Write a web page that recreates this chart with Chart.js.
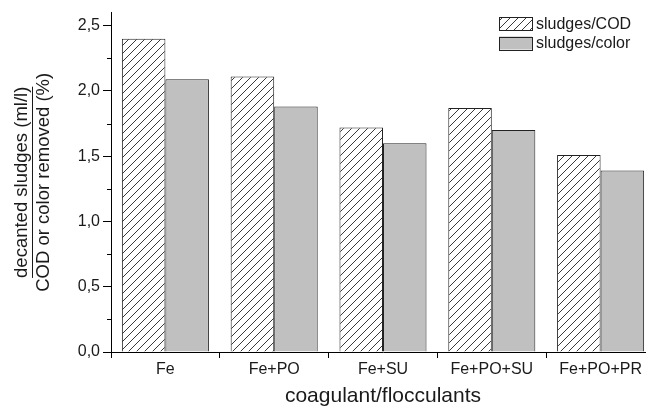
<!DOCTYPE html>
<html>
<head>
<meta charset="utf-8">
<script src="https://cdn.jsdelivr.net/npm/chart.js@4/dist/chart.umd.min.js"></script>
<style>
html,body{margin:0;padding:0;overflow:hidden;background:#fff;width:646px;height:409px}
#wrap{width:660px;height:409px}
</style>
</head>
<body>
<div id="wrap"><canvas id="c" width="660" height="409"></canvas></div>
<script>
// ---- data ----
const categories = ['Fe', 'Fe+PO', 'Fe+SU', 'Fe+PO+SU', 'Fe+PO+PR'];
const sludgesCOD = [2.40, 2.11, 1.72, 1.87, 1.51];
const sludgesColor = [2.09, 1.88, 1.60, 1.70, 1.39];
const seriesNames = ['sludges/COD', 'sludges/color'];
const yMajorTicks = [0, 0.5, 1.0, 1.5, 2.0, 2.5];
const yTickLabels = ['0,0', '0,5', '1,0', '1,5', '2,0', '2,5'];
const yMinorTicks = [0.25, 0.75, 1.25, 1.75, 2.25];
const yTitleLines = ['decanted sludges (ml/l)', 'COD or color removed (%)'];
const xTitle = 'coagulant/flocculants';

const FONT = "'Liberation Sans', Arial, sans-serif";
const TXT = '#1a1a1a';

function hatchPattern() {
  const c = document.createElement('canvas');
  c.width = 8; c.height = 8;
  const g = c.getContext('2d');
  g.fillStyle = '#fff';
  g.fillRect(0, 0, 8, 8);
  g.strokeStyle = '#3a3a3a';
  g.lineWidth = 1;
  g.beginPath();
  g.moveTo(-1, 9); g.lineTo(9, -1);
  g.moveTo(-1, 1); g.lineTo(1, -1);
  g.moveTo(7, 9); g.lineTo(9, 7);
  g.stroke();
  return g.createPattern(c, 'repeat');
}

const minorTicksPlugin = {
  id: 'minorTicks',
  afterDraw(chart) {
    const s = chart.scales.y, ctx = chart.ctx;
    ctx.save();
    ctx.strokeStyle = '#000';
    ctx.lineWidth = 1;
    ctx.beginPath();
    yMinorTicks.forEach(v => {
      const py = Math.round(s.getPixelForValue(v)) + 0.5;
      ctx.moveTo(s.right - 4, py);
      ctx.lineTo(s.right, py);
    });
    ctx.stroke();
    ctx.restore();
  }
};

const yTitleSize = 18.5, yTitleLH = 1.2, yTitlePadTop = 10.5;
const fractionLinePlugin = {
  id: 'fractionLine',
  afterDraw(chart) {
    const s = chart.scales.y, ctx = chart.ctx;
    ctx.save();
    ctx.font = yTitleSize + 'px ' + FONT;
    const w = ctx.measureText(yTitleLines[0]).width;
    const lh = yTitleSize * yTitleLH;
    const x = Math.round(s.left + yTitlePadTop + lh / 2 + 10.5) + 0.5;
    const cy = (s.top + s.bottom) / 2;
    ctx.strokeStyle = TXT;
    ctx.lineWidth = 1;
    ctx.beginPath();
    ctx.moveTo(x, cy - w / 2);
    ctx.lineTo(x, cy + w / 2);
    ctx.stroke();
    ctx.restore();
  }
};

const legendPlugin = {
  id: 'insetLegend',
  afterDraw(chart) {
    const ctx = chart.ctx;
    const bx = 499, bw = 33, bh = 13, tops = [17, 36.5];
    ctx.save();
    chart.data.datasets.forEach((ds, i) => {
      const y = tops[i];
      ctx.fillStyle = ds.backgroundColor;
      ctx.fillRect(bx, y, bw, bh);
      ctx.strokeStyle = '#222';
      ctx.lineWidth = 1;
      ctx.strokeRect(bx + 0.5, Math.round(y) + 0.5, bw, bh);
      ctx.fillStyle = TXT;
      ctx.font = '16px ' + FONT;
      ctx.textBaseline = 'middle';
      ctx.textAlign = 'left';
      ctx.fillText(ds.label, bx + bw + 4, y + bh / 2 + 1);
    });
    ctx.restore();
  }
};

new Chart(document.getElementById('c'), {
  type: 'bar',
  data: {
    labels: categories,
    datasets: [
      { label: seriesNames[0], data: sludgesCOD, backgroundColor: hatchPattern(), borderColor: '#222', borderWidth: 1 },
      { label: seriesNames[1], data: sludgesColor, backgroundColor: '#c0c0c0', borderColor: '#222', borderWidth: 1 }
    ]
  },
  options: {
    responsive: false,
    animation: false,
    devicePixelRatio: 1,
    layout: { padding: { top: 11, left: 0, right: 5, bottom: 0 } },
    datasets: { bar: { categoryPercentage: 0.8, barPercentage: 1.0 } },
    plugins: { legend: { display: false }, tooltip: { enabled: false } },
    scales: {
      x: {
        grid: { offset: true, drawOnChartArea: false, drawTicks: true, tickLength: 6, color: '#000' },
        border: { display: true, color: '#000', width: 1 },
        ticks: { color: TXT, font: { family: FONT, size: 16 }, padding: 2, maxRotation: 0, autoSkip: false },
        title: { display: true, text: xTitle, color: TXT, font: { family: FONT, size: 21 }, padding: { top: 0, bottom: 0 } },
        afterFit(s) { s.height = 57; }
      },
      y: {
        min: 0,
        max: 2.6,
        afterBuildTicks(s) { s.ticks = yMajorTicks.map(v => ({ value: v })); },
        ticks: {
          color: TXT, font: { family: FONT, size: 16 }, padding: 3,
          callback(v) { const i = yMajorTicks.indexOf(v); return i >= 0 ? yTickLabels[i] : ''; }
        },
        grid: { drawOnChartArea: false, drawTicks: true, tickLength: 8, color: '#000' },
        border: { display: true, color: '#000', width: 1 },
        title: { display: true, text: yTitleLines, color: TXT, font: { family: FONT, size: yTitleSize, lineHeight: yTitleLH }, padding: { top: yTitlePadTop, bottom: 0 } },
        afterFit(s) { s.width = 111; }
      }
    }
  },
  plugins: [minorTicksPlugin, fractionLinePlugin, legendPlugin]
});
</script>
</body>
</html>
